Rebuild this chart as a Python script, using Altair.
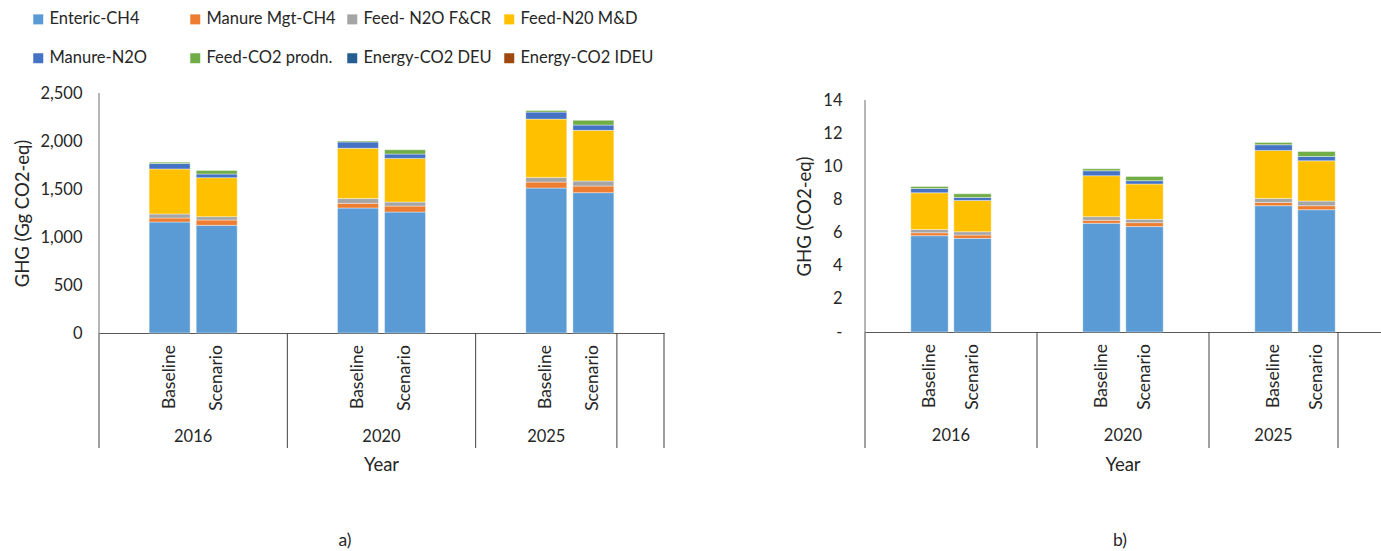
import altair as alt
import pandas as pd

# ---- categories -------------------------------------------------------------
years = ["2016", "2020", "2025"]
cases = ["Baseline", "Scenario"]
sources = [
    "Enteric-CH4", "Manure Mgt-CH4", "Feed- N2O F&CR", "Feed-N20 M&D",
    "Manure-N2O", "Feed-CO2 prodn.", "Energy-CO2 DEU", "Energy-CO2 IDEU",
]
colors = ["#5B9BD5", "#ED7D31", "#A5A5A5", "#FFC000",
          "#4472C4", "#70AD47", "#255E91", "#9E480E"]

# ---- a) total emissions, Gg CO2-eq (order: 2016 B/S, 2020 B/S, 2025 B/S) ----
enteric_gg = [1156, 1122, 1302, 1260, 1510, 1462]
manure_ch4_gg = [42, 55, 49, 62, 62, 69]
feed_fcr_gg = [42, 35, 49, 42, 49, 52]
feed_md_gg = [469, 406, 524, 455, 607, 528]
manure_n2o_gg = [56, 38, 66, 45, 73, 55]
feed_co2_gg = [14, 38, 10, 45, 17, 49]
energy_deu_gg = [0, 0, 0, 0, 0, 0]
energy_ideu_gg = [0, 0, 0, 0, 0, 0]

# ---- b) emission intensity, CO2-eq ------------------------------------------
enteric_int = [5.81, 5.65, 6.56, 6.36, 7.62, 7.38]
manure_ch4_int = [0.18, 0.20, 0.18, 0.24, 0.20, 0.24]
feed_fcr_int = [0.20, 0.20, 0.22, 0.20, 0.24, 0.28]
feed_md_int = [2.21, 1.89, 2.47, 2.13, 2.90, 2.43]
manure_n2o_int = [0.26, 0.18, 0.30, 0.20, 0.34, 0.26]
feed_co2_int = [0.12, 0.22, 0.12, 0.26, 0.14, 0.30]
energy_deu_int = [0, 0, 0, 0, 0, 0]
energy_ideu_int = [0, 0, 0, 0, 0, 0]

ticks_gg = [0, 500, 1000, 1500, 2000, 2500]
ticks_int = [0, 2, 4, 6, 8, 10, 12, 14]

series_gg = dict(zip(sources, [enteric_gg, manure_ch4_gg, feed_fcr_gg, feed_md_gg,
                               manure_n2o_gg, feed_co2_gg, energy_deu_gg, energy_ideu_gg]))
series_int = dict(zip(sources, [enteric_int, manure_ch4_int, feed_fcr_int, feed_md_int,
                                manure_n2o_int, feed_co2_int, energy_deu_int, energy_ideu_int]))

pairs = [(y, c) for y in years for c in cases]

# category slots along the x axis, including the empty spacer slots
slot_order = [
    "2016 pad", "2016 Baseline", "2016 Scenario", "2016 gap",
    "2020 pad", "2020 Baseline", "2020 Scenario", "2020 gap",
    "2025 pad", "2025 Baseline", "2025 Scenario", "blank",
]

FONT = "Lato"
TEXT = "#262626"
LINE = "#595959"

legend = alt.Legend(
    orient="none", legendX=-69, legendY=-82, direction="horizontal",
    columns=4, gridAlign="all", symbolType="square", symbolSize=100,
    symbolStrokeWidth=0, labelFontSize=16.5, labelOffset=3, labelColor=TEXT,
    columnPadding=4, rowPadding=22, title=None, padding=0, labelLimit=300,
)


def panel(series, width, height, y_max, ticks, label_expr, y_title,
          title_x, title_y, label_pad, caption, cap_x, draw_end):
    rows = []
    for k, src in enumerate(sources):
        for i, (yr, cs) in enumerate(pairs):
            rows.append({"slot": f"{yr} {cs}", "source": src, "rank": k,
                         "value": series[src][i]})
    df = pd.DataFrame(rows)

    x_scale = alt.Scale(domain=slot_order, paddingInner=0, paddingOuter=0)
    y_scale = alt.Scale(domain=[0, y_max], nice=False)
    x_axis = alt.Axis(labels=False, ticks=False, title=None, grid=False,
                      domain=True, domainColor=LINE, domainWidth=1)
    y_axis = alt.Axis(values=ticks, labelExpr=label_expr, ticks=False,
                      domain=False, grid=False, labelPadding=label_pad,
                      labelFontSize=16.5, labelColor=TEXT, title=y_title,
                      titleFontSize=18.5, titleFontWeight="normal",
                      titleColor=TEXT, titleAngle=270, titleX=title_x,
                      titleY=title_y, titleAlign="center",
                      titleBaseline="middle")

    def xenc(band=0.5):
        return alt.X("slot:N", scale=x_scale, axis=x_axis, bandPosition=band)

    bars = alt.Chart(df).transform_filter("datum.value > 0").mark_bar(
        width=alt.RelativeBandSize(0.87), stroke="white", strokeWidth=0.5,
        strokeOpacity=0.8,
    ).encode(
        x=alt.X("slot:N", scale=x_scale, axis=x_axis),
        y=alt.Y("value:Q", stack="zero", scale=y_scale, axis=y_axis),
        color=alt.Color("source:N", scale=alt.Scale(domain=sources, range=colors),
                        legend=legend),
        order=alt.Order("rank:Q", sort="ascending"),
    )

    # vertical value axis line, from 0 up to the top tick
    axis_df = pd.DataFrame({"value": [0], "hi": [ticks[-1]], "slot": ["2016 pad"]})
    y_line = alt.Chart(axis_df).mark_rule(color="#868686", strokeWidth=1.2).encode(
        x=xenc(0),
        y=alt.Y("value:Q", scale=y_scale, axis=y_axis),
        y2="hi:Q",
    )

    case_df = pd.DataFrame({"slot": [f"{y} {c}" for y, c in pairs],
                            "case": [c for _, c in pairs]})
    case_text = alt.Chart(case_df).mark_text(
        angle=270, align="right", baseline="middle", fontSize=17.5, color=TEXT,
    ).encode(x=xenc(0.5), y=alt.value(height + 12), text="case:N")

    # year labels: centred on the boundary of the two bars (4-slot groups)
    # or on the Baseline slot (3-slot group)
    yr_a = pd.DataFrame({"slot": ["2016 Scenario", "2020 Scenario"],
                         "year": ["2016", "2020"]})
    yr_b = pd.DataFrame({"slot": ["2025 Baseline"], "year": ["2025"]})
    year_a = alt.Chart(yr_a).mark_text(fontSize=16.5, color=TEXT, baseline="middle").encode(
        x=xenc(0), y=alt.value(height + 104), text="year:N")
    year_b = alt.Chart(yr_b).mark_text(fontSize=16.5, color=TEXT, baseline="middle").encode(
        x=xenc(0.5), y=alt.value(height + 104), text="year:N")

    # separators between the year groups in the category band
    sep_df = pd.DataFrame({"slot": ["2016 pad", "2020 pad", "2025 pad", "blank"]})
    seps = alt.Chart(sep_df).mark_rule(color="#404040", strokeWidth=1).encode(
        x=xenc(0), y=alt.value(height), y2=alt.value(355))

    layers = [bars, y_line, case_text, year_a, year_b, seps]

    if draw_end:
        end_df = pd.DataFrame({"slot": ["blank"]})
        layers.append(alt.Chart(end_df).mark_rule(color="#404040", strokeWidth=1).encode(
            x=xenc(1), y=alt.value(height), y2=alt.value(355)))

    txt_df = pd.DataFrame({"t": ["Year"]})
    layers.append(alt.Chart(txt_df).mark_text(fontSize=18.5, color=TEXT, baseline="middle").encode(
        x=alt.value(width / 2), y=alt.value(372), text="t:N"))
    cap_df = pd.DataFrame({"t": [caption]})
    layers.append(alt.Chart(cap_df).mark_text(fontSize=17.5, color=TEXT, baseline="middle").encode(
        x=alt.value(cap_x), y=alt.value(448), text="t:N"))

    return alt.layer(*layers).properties(width=width, height=height)


left = panel(series_gg, 565, 240, 2500, ticks_gg, "datum.label",
             "GHG (Gg CO2-eq)", -77, 120, 17, "a)", 246, True)
right = panel(series_int, 516, 239, 14 * 239 / 232, ticks_int,
              "datum.value == 0 ? '-' : datum.label",
              "GHG (CO2-eq)", -61, 123, 23, "b)", 255, False)

chart = alt.hconcat(left, right, spacing=201, bounds="flush").resolve_scale(
    x="independent", y="independent", color="shared",
).properties(
    autosize=alt.AutoSizeParams(type="none"),
    padding={"left": 99, "top": 93, "right": 1282, "bottom": 458},
).configure(font=FONT).configure_view(stroke="transparent")

chart.save("out.html", embed_options={"renderer": "svg", "actions": False})
